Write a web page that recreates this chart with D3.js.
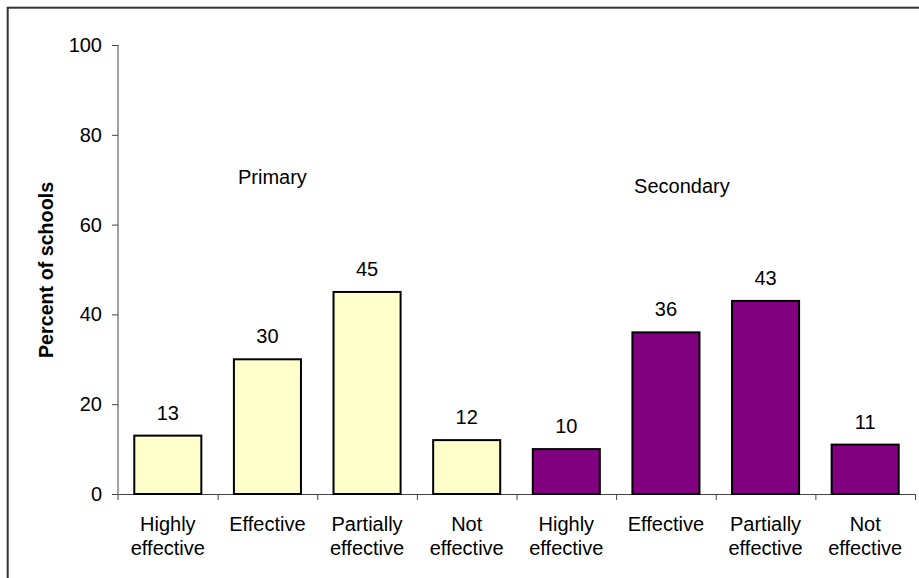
<!DOCTYPE html>
<html>
<head>
<meta charset="utf-8">
<script src="https://cdn.jsdelivr.net/npm/d3@7"></script>
<style>
  body { margin: 0; background: #fff; }
  svg { display: block; font-family: "Liberation Sans", Arial, sans-serif; }
</style>
</head>
<body>
<div id="chart"></div>
<script>
// data
var categories = ["Highly effective", "Effective", "Partially effective", "Not effective"];
var catLines = [["Highly", "effective"], ["Effective"], ["Partially", "effective"], ["Not", "effective"]];
var primary = [13, 30, 45, 12];
var secondary = [10, 36, 43, 11];
var groups = ["Primary", "Secondary"];
var yTicks = [0, 20, 40, 60, 80, 100];

var w = 919;
var h = 578;

var bars = [];
primary.forEach(function(d, i) { bars.push({group: 0, cat: i, value: d}); });
secondary.forEach(function(d, i) { bars.push({group: 1, cat: i, value: d}); });

var svg = d3.select("#chart")
            .append("svg")
            .attr("width", w)
            .attr("height", h);

// outer frame (right and bottom run off the page)
svg.append("rect")
   .attr("x", 7.7)
   .attr("y", 7.7)
   .attr("width", w + 20)
   .attr("height", h + 20)
   .attr("fill", "none")
   .attr("stroke", "#333")
   .attr("stroke-width", 2);

var x = d3.scaleBand()
          .domain(d3.range(bars.length))
          .range([118, 915])
          .paddingInner(0.327)
          .paddingOuter(0.1635);

var xPos = d3.scaleLinear()
             .domain([0, bars.length])
             .range([118, 915]);

var y = d3.scaleLinear()
          .domain([0, 100])
          .range([494, 45]);

// y axis
var yAxis = svg.append("g")
   .attr("transform", "translate(118,0)")
   .call(d3.axisLeft(y).tickValues(yTicks).tickSize(6).tickSizeOuter(0).tickPadding(10));
yAxis.select(".domain").remove();
yAxis.append("line")
   .attr("x1", 0).attr("x2", 0)
   .attr("y1", y(100)).attr("y2", y(0) + 6)
   .attr("stroke", "#444");
yAxis.selectAll(".tick line").attr("stroke", "#444");
yAxis.selectAll(".tick text")
   .attr("font-size", 20)
   .attr("fill", "#000");

// x axis with ticks at band boundaries
var xAxis = svg.append("g")
   .attr("transform", "translate(0," + y(0) + ")")
   .call(d3.axisBottom(xPos).tickValues(d3.range(1, bars.length + 1)).tickFormat("").tickSize(6).tickSizeOuter(0));
xAxis.select(".domain").attr("stroke", "#444");
xAxis.selectAll(".tick line").attr("stroke", "#444");

// category labels
var labels = svg.append("g")
   .selectAll("text")
   .data(bars)
   .enter()
   .append("text")
   .attr("x", function(d, i) { return x(i) + x.bandwidth() / 2; })
   .attr("y", 531)
   .attr("text-anchor", "middle")
   .attr("font-size", 20)
   .attr("fill", "#000");
labels.selectAll("tspan")
   .data(function(d) { return catLines[d.cat]; })
   .enter()
   .append("tspan")
   .attr("x", function() { return d3.select(this.parentNode).attr("x"); })
   .attr("dy", function(d, i) { return i === 0 ? 0 : 24; })
   .text(function(d) { return d; });

// bars
svg.selectAll("rect.bar")
   .data(bars)
   .enter()
   .append("rect")
   .attr("class", "bar")
   .attr("x", function(d, i) { return x(i); })
   .attr("y", function(d) { return y(d.value); })
   .attr("width", x.bandwidth())
   .attr("height", function(d) { return y(0) - y(d.value); })
   .attr("fill", function(d) { return d.group === 0 ? "#ffffcc" : "#800080"; })
   .attr("stroke", "#000")
   .attr("stroke-width", 2);

// value labels
svg.selectAll("text.val")
   .data(bars)
   .enter()
   .append("text")
   .attr("class", "val")
   .attr("x", function(d, i) { return x(i) + x.bandwidth() / 2; })
   .attr("y", function(d) { return y(d.value) - 16; })
   .attr("text-anchor", "middle")
   .attr("font-size", 20)
   .attr("fill", "#000")
   .text(function(d) { return d.value; });

// group labels
var groupPos = [[1.55, 69], [5.66, 67]];
svg.selectAll("text.grp")
   .data(groups)
   .enter()
   .append("text")
   .attr("class", "grp")
   .attr("x", function(d, i) { return xPos(groupPos[i][0]); })
   .attr("y", function(d, i) { return y(groupPos[i][1]); })
   .attr("text-anchor", "middle")
   .attr("font-size", 20)
   .attr("fill", "#000")
   .text(function(d) { return d; });

// y axis title
svg.append("text")
   .attr("transform", "translate(53,270) rotate(-90)")
   .attr("text-anchor", "middle")
   .attr("font-size", 19.7)
   .attr("font-weight", "bold")
   .attr("fill", "#000")
   .text("Percent of schools");
</script>
</body>
</html>
